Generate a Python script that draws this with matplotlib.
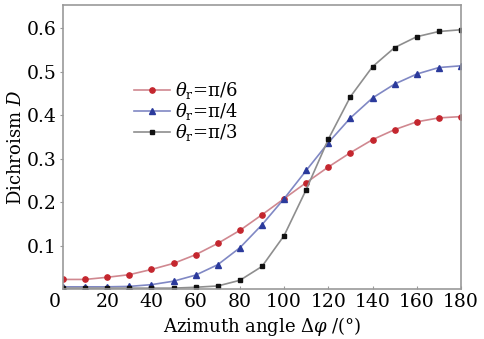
import matplotlib.pyplot as plt
import matplotlib.transforms as mtransforms
import numpy as np

plt.rcParams['font.family'] = 'DejaVu Serif'
plt.rcParams['mathtext.fontset'] = 'dejavuserif'

# azimuth angle in degrees
angle = list(range(0, 181, 10))

# dichroism for the three theta_r values
d_pi6 = [0.022, 0.022, 0.027, 0.033, 0.045, 0.059, 0.079, 0.105, 0.135, 0.171,
         0.208, 0.245, 0.281, 0.314, 0.344, 0.367, 0.385, 0.394, 0.397]
d_pi4 = [0.005, 0.005, 0.005, 0.006, 0.010, 0.018, 0.032, 0.056, 0.095, 0.148,
         0.208, 0.273, 0.337, 0.394, 0.440, 0.472, 0.495, 0.510, 0.514]
d_pi3 = [0.002, 0.002, 0.002, 0.002, 0.002, 0.002, 0.004, 0.007, 0.020, 0.052,
         0.123, 0.229, 0.345, 0.443, 0.512, 0.556, 0.581, 0.593, 0.597]

labels = [r'$\theta_\mathrm{r}$=π/6', r'$\theta_\mathrm{r}$=π/4', r'$\theta_\mathrm{r}$=π/3']
xticks = [0, 20, 40, 60, 80, 100, 120, 140, 160, 180]
yticks = [0.1, 0.2, 0.3, 0.4, 0.5, 0.6]

fig = plt.figure(figsize=(4.84, 3.39), dpi=100)
ax = fig.add_axes([63 / 484, 1 - 289 / 339, 398 / 484, 284 / 339])

ax.plot(angle, d_pi6, color='#d08890', lw=1.2, marker='o', ms=3.8,
        mfc='#c4262e', mec='#c4262e', label=labels[0])
ax.plot(angle, d_pi4, color='#8088c4', lw=1.2, marker='^', ms=3.8,
        mfc='#2b3a9c', mec='#2b3a9c', label=labels[1])
ax.plot(angle, d_pi3, color='#8e8e8e', lw=1.2, marker='s', ms=2.6,
        mfc='#111111', mec='#111111', label=labels[2])

ax.set_xlim(0, 180)
ax.set_ylim(0, 0.654)
ax.set_xticks(xticks)
ax.set_yticks(yticks)
ax.set_yticklabels(['%.1f' % v for v in yticks])

for s in ax.spines.values():
    s.set_color('#999999')
    s.set_linewidth(1.2)
ax.tick_params(axis='both', labelsize=13.5, length=2.5, color='#999999', pad=2)
ax.tick_params(axis='x', direction='in', pad=3)

# the "0" label sits a little left of the corner
lab0 = ax.get_xticklabels()[0]
lab0.set_transform(lab0.get_transform() +
                   mtransforms.ScaledTranslation(-8 / 100, 0, fig.dpi_scale_trans))

ax.set_xlabel(r'Azimuth angle $\Delta\varphi$ /(°)', fontsize=13, labelpad=3)
ax.set_ylabel(r'Dichroism $D$', fontsize=13, labelpad=1)

leg = ax.legend(loc='upper left', bbox_to_anchor=(0.16, 0.76), frameon=False,
                fontsize=13, handlelength=2.0, handletextpad=0.3,
                labelspacing=0.0, borderaxespad=0)

fig.savefig('out.png', dpi=100)
